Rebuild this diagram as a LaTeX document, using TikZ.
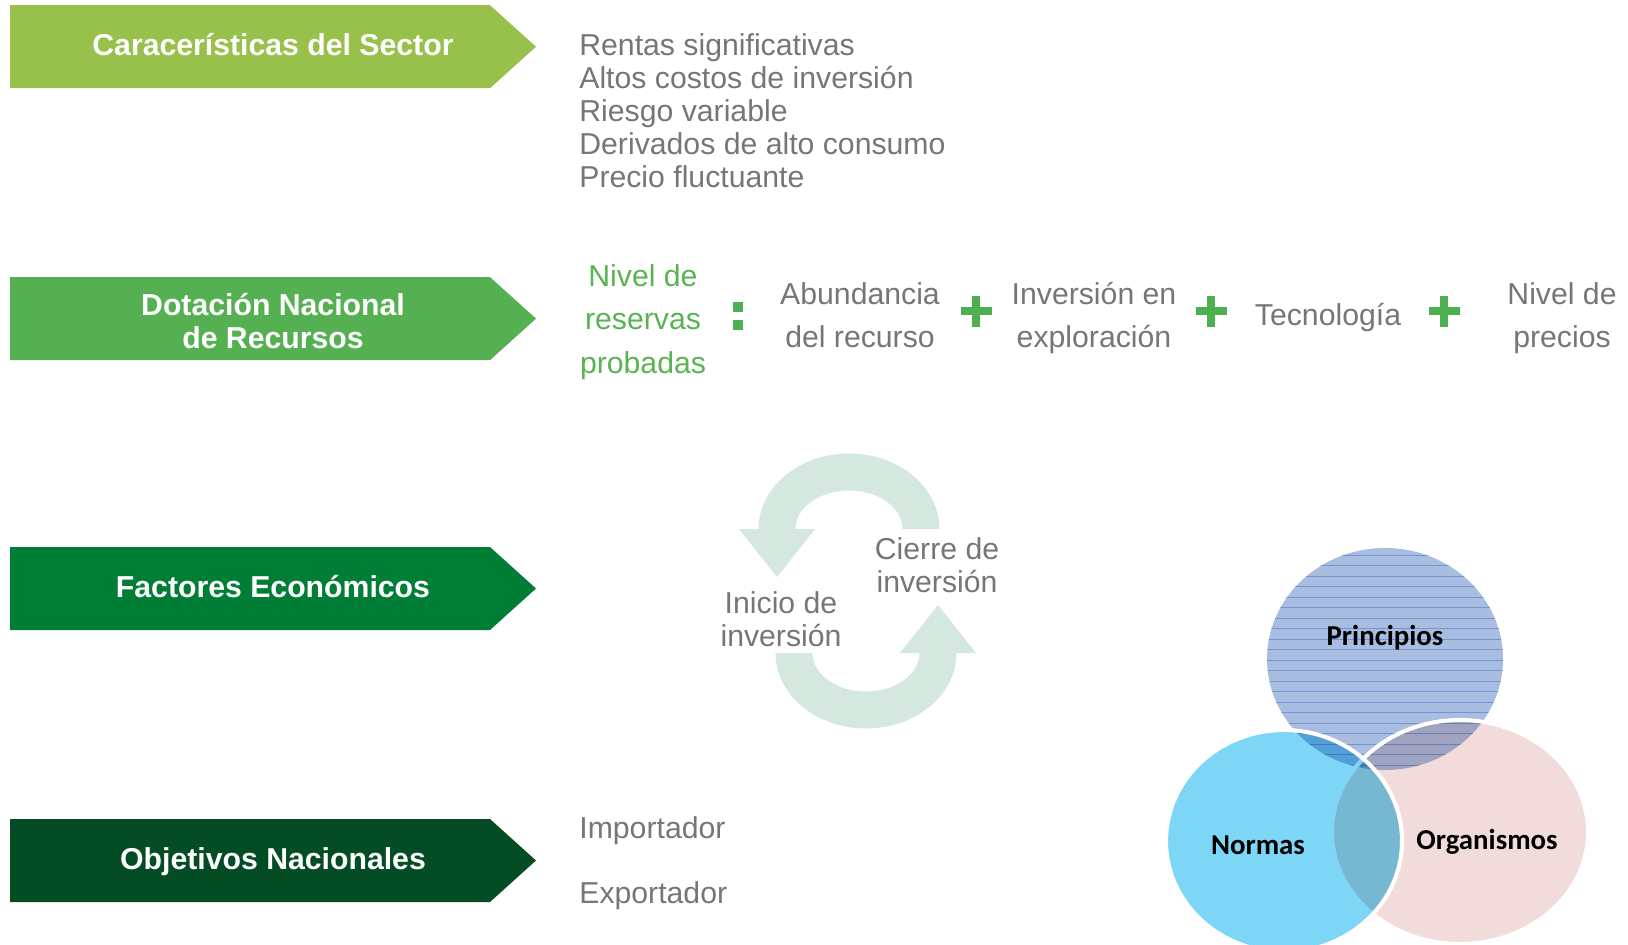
\documentclass[tikz,border=0pt]{standalone}
\usepackage{fontspec}
\setmainfont{Liberation Sans}
\newfontfamily\vennfont{Carlito}
\usepackage{tikz}
\usetikzlibrary{positioning}
\usepackage{color}
\definecolor{sectorgreen}{RGB}{151, 193, 74}
\definecolor{dotacion}{RGB}{84, 176, 80}
\definecolor{factores}{RGB}{1, 126, 54}
\definecolor{objetivos}{RGB}{4, 76, 35}
\definecolor{textgray}{RGB}{118, 118, 118}
\definecolor{plusgreen}{RGB}{76, 175, 80}
\definecolor{reservegreen}{RGB}{88, 180, 82}
\definecolor{cyclefill}{RGB}{212, 232, 224}
\definecolor{principios}{RGB}{168, 189, 224}
\definecolor{princline}{RGB}{115, 148, 212}
\definecolor{normas}{RGB}{125, 214, 245}
\definecolor{organismos}{RGB}{242, 220, 219}

\begin{document}
\begin{tikzpicture}[x=0.02cm, y=-0.02cm,
    title/.style={text=white, inner sep=0pt, align=center, font=\bfseries\fontsize{17.2}{18.8}\selectfont},
    plain/.style={text=textgray, inner sep=0pt, align=left, font=\fontsize{17.2}{18.8}\selectfont},
    factor/.style={text=textgray, inner sep=0pt, align=center, font=\fontsize{17.2}{24.7}\selectfont},
    venn/.style={inner sep=0pt, font=\vennfont\bfseries\fontsize{16.4}{18}\selectfont}]
            \useasboundingbox (0,0) rectangle (1628,944);
            % Banners
            \foreach \yc/\col in {46.7/sectorgreen, 318.6/dotacion, 588.5/factores, 860.5/objetivos}
                \fill[\col] (10,\yc-41.5) -- (490,\yc-41.5) -- (536,\yc) -- (490,\yc+41.5) -- (10,\yc+41.5) -- cycle;
            \node[title] (sector)    at (273, 45)   {Caracerísticas del Sector};
            \node[title] (dotacion)  at (273,321)   {Dotación Nacional\\de Recursos};
            \node[title] (factores)  at (273,586.5) {Factores Económicos};
            \node[title] (objetivos) at (273,861.5) {Objetivos Nacionales};
            % Sector
            \node[plain, anchor=west] (rasgos) at (579,111)
                 {Rentas significativas\\Altos costos de inversión\\Riesgo variable\\Derivados de alto consumo\\Precio fluctuante};
            % Reserves
            \node[factor, text=reservegreen] (reservas) at (643,322) {Nivel de\\reservas\\probadas};
            \fill[plusgreen] (733,302) rectangle (743,312);
            \fill[plusgreen] (733,320) rectangle (743,330);
            \node[factor] (abundancia)  at ( 860,315) {Abundancia\\del recurso};
            \node[factor] (exploracion) at (1094,318) {Inversión en\\exploración};
            \node[factor] (tecnologia)  at (1328,317) {Tecnología};
            \node[factor] (precios)     at (1562,318) {Nivel de\\precios};
            \foreach \px in {976,1211,1444} {
                \fill[plusgreen] (\px-15.5,306.75) rectangle (\px+15.5,315.25);
                \fill[plusgreen] (\px-4.25,295.5) rectangle (\px+4.25,326.5);
            }
            % Investment cycle
            \foreach \rot in {0,180}
                \fill[cyclefill, rotate around={\rot:(857.5,591)}]
                     (939.5,529) arc[start angle=0, end angle=-180, x radius=90.5, y radius=75.5]
                     -- (739,529) -- (777,577) -- (815,529) -- (795.5,529)
                     arc[start angle=-180, end angle=0, x radius=53.5, y radius=38.5] -- cycle;
            \node[plain, align=center] (cierre) at (937,565) {Cierre de\\inversión};
            \node[plain, align=center] (inicio) at (781,619) {Inicio de\\inversión};
            % Objectives
            \node[plain, anchor=west] (importador) at (579,831) {Importador};
            \node[plain, anchor=west] (exportador) at (579,896) {Exportador};
            % Venn
            \fill[principios] (1385,659) ellipse[x radius=118, y radius=111];
            \begin{scope}
                \clip (1385,659) ellipse[x radius=118, y radius=111];
                \foreach \ly in {555,565.5,...,770}
                    \draw[princline, line width=0.3pt] (1265,\ly) -- (1505,\ly);
            \end{scope}
            \fill[organismos, blend mode=multiply] (1460,832) ellipse[x radius=128, y radius=112];
            \draw[white, line width=2.3pt]         (1460,832) ellipse[x radius=128, y radius=112];
            \fill[normas, blend mode=multiply]     (1284,841) ellipse[x radius=118, y radius=111];
            \draw[white, line width=2.3pt]         (1284,841) ellipse[x radius=118, y radius=111];
            \node[venn] (principio) at (1385,638) {Principios};
            \node[venn] (norma)     at (1258,845) {Normas};
            \node[venn] (organismo) at (1487,842) {Organismos};
\end{tikzpicture}
\end{document}
